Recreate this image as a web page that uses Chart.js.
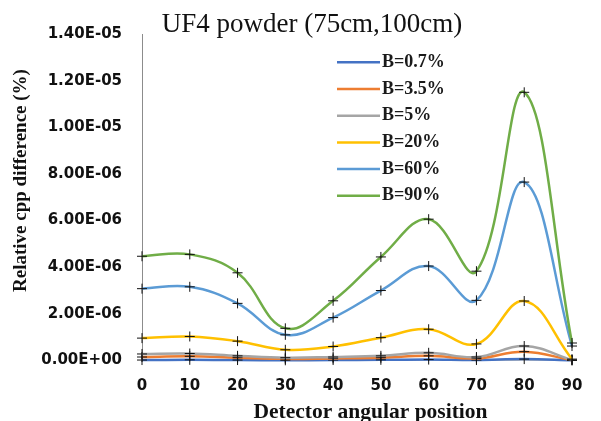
<!DOCTYPE html>
<html>
<head>
<meta charset="utf-8">
<script src="https://cdn.jsdelivr.net/npm/chart.js@4.4.1/dist/chart.umd.min.js"></script>
<style>
  html, body { margin: 0; padding: 0; background: #ffffff; }
  #wrap { width: 601px; height: 421px; }
</style>
</head>
<body>
<div id="wrap"><canvas id="c" width="601" height="421"></canvas></div>
<script>
// Detector angular positions (degrees)
const angles = [0, 10, 20, 30, 40, 50, 60, 70, 80, 90];

// Relative cpp difference (%) per B fraction
const b07 = [0.02e-6, 0.03e-6, 0.02e-6, 0.01e-6, 0.02e-6, 0.03e-6, 0.04e-6, 0.02e-6, 0.06e-6, 0.01e-6];
const b35 = [0.15e-6, 0.18e-6, 0.12e-6, 0.07e-6, 0.09e-6, 0.12e-6, 0.20e-6, 0.09e-6, 0.38e-6, 0.01e-6];
const b5  = [0.28e-6, 0.30e-6, 0.20e-6, 0.12e-6, 0.15e-6, 0.20e-6, 0.33e-6, 0.15e-6, 0.62e-6, 0.02e-6];
const b20 = [0.96e-6, 1.03e-6, 0.83e-6, 0.46e-6, 0.60e-6, 0.98e-6, 1.34e-6, 0.71e-6, 2.55e-6, 0.06e-6];
const b60 = [3.08e-6, 3.16e-6, 2.45e-6, 1.10e-6, 1.84e-6, 3.00e-6, 4.05e-6, 2.58e-6, 7.65e-6, 0.62e-6];
const b90 = [4.47e-6, 4.55e-6, 3.76e-6, 1.38e-6, 2.56e-6, 4.44e-6, 6.06e-6, 3.83e-6, 11.50e-6, 0.75e-6];

const seriesNames = ['B=0.7%', 'B=3.5%', 'B=5%', 'B=20%', 'B=60%', 'B=90%'];
const seriesValues = [b07, b35, b5, b20, b60, b90];
const seriesColors = ['#4472C4', '#ED7D31', '#A5A5A5', '#FFC000', '#5B9BD5', '#70AD47'];

// Y axis range and step
const yMin = 0, yMax = 1.4e-5, yStep = 2e-6;

// Text
const chartTitle = 'UF4 powder (75cm,100cm)';
const xTitle = 'Detector angular position';
const yTitle = 'Relative cpp difference (%)';

function sci(v) {
  const s = Math.abs(v) < 1e-20 ? (0).toExponential(2) : v.toExponential(2);
  const parts = s.split('e');
  const sign = parts[1][0] === '-' ? '-' : '+';
  const digits = parts[1].replace(/[+-]/, '').padStart(2, '0');
  return parts[0] + 'E' + sign + digits;
}

const datasets = seriesNames.map((name, i) => ({
  label: name,
  data: angles.map((a, j) => ({ x: a, y: seriesValues[i][j] })),
  borderColor: seriesColors[i],
  backgroundColor: seriesColors[i],
  borderWidth: 2.5,
  tension: 0.4,
  pointStyle: 'cross',
  pointRadius: 5,
  pointBorderColor: '#111111',
  pointBackgroundColor: '#111111',
  pointBorderWidth: 1,
  order: seriesNames.length - i,
  clip: false
}));

// Titles and an in-plot legend, drawn on the chart canvas
const annotations = {
  id: 'annotations',
  afterDraw(chart) {
    const ctx = chart.ctx;
    ctx.save();
    ctx.fillStyle = '#111111';

    // main title
    ctx.font = '27px "Liberation Serif", serif';
    ctx.textAlign = 'center';
    ctx.textBaseline = 'alphabetic';
    ctx.fillText(chartTitle, 312, 32);

    // x axis title
    ctx.font = 'bold 21.5px "Liberation Serif", serif';
    ctx.fillText(xTitle, 370.5, 418);

    // y axis title
    ctx.save();
    ctx.translate(25.5, 180.5);
    ctx.rotate(-Math.PI / 2);
    ctx.font = 'bold 19px "Liberation Serif", serif';
    ctx.fillText(yTitle, 0, 0);
    ctx.restore();

    // legend
    const x0 = 337, x1 = 380, tx = 382, y0 = 62.3, dy = 26.7;
    chart.data.datasets.forEach((ds, i) => {
      const y = y0 + i * dy;
      ctx.strokeStyle = ds.borderColor;
      ctx.lineWidth = 2.5;
      ctx.beginPath();
      ctx.moveTo(x0, y);
      ctx.lineTo(x1, y);
      ctx.stroke();
      ctx.fillStyle = '#1a1a1a';
      ctx.font = 'bold 18px "Liberation Serif", serif';
      ctx.textAlign = 'left';
      ctx.textBaseline = 'alphabetic';
      ctx.fillText(ds.label, tx, y + 4.5);
    });
    ctx.restore();
  }
};

const tickFont = { family: '"DejaVu Sans", sans-serif', size: 15, weight: 'bold' };

new Chart(document.getElementById('c'), {
  type: 'line',
  data: { datasets },
  plugins: [annotations],
  options: {
    responsive: false,
    devicePixelRatio: 1,
    animation: false,
    layout: { padding: { left: 0, right: 29, top: 34, bottom: 0 } },
    plugins: {
      legend: { display: false },
      tooltip: { enabled: false },
      title: { display: false }
    },
    scales: {
      x: {
        type: 'linear',
        min: 0, max: 90,
        ticks: { stepSize: 10, color: '#111111', font: tickFont, padding: 17 },
        grid: { display: false, drawTicks: false },
        border: { display: true, color: '#bfbfbf', width: 1 },
        afterFit(scale) { scale.height = 60.5; }
      },
      y: {
        min: yMin, max: yMax,
        ticks: {
          stepSize: yStep,
          color: '#111111',
          font: tickFont,
          padding: 20,
          callback: (v) => sci(v)
        },
        grid: { display: false, drawTicks: false },
        border: { display: true, color: '#8c8c8c', width: 1 },
        afterFit(scale) { scale.width = 142; }
      }
    }
  }
});
</script>
</body>
</html>
